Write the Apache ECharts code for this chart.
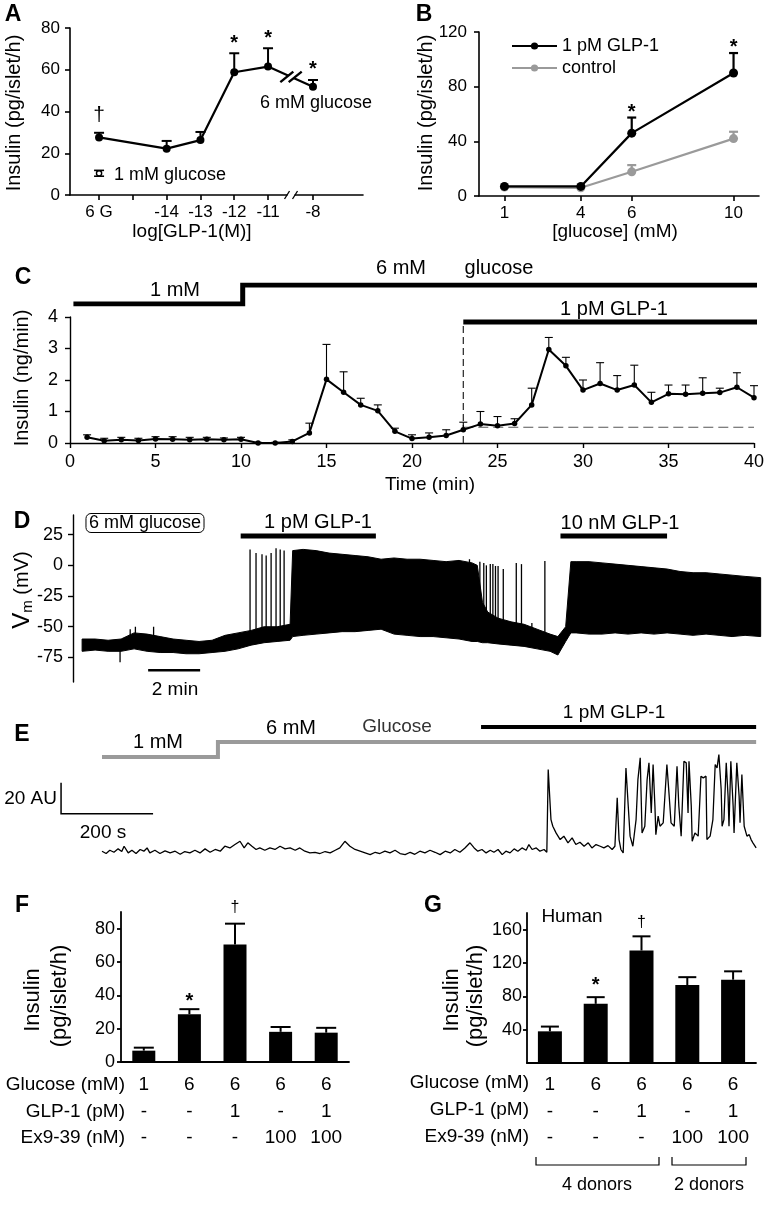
<!DOCTYPE html>
<html><head><meta charset="utf-8">
<script src="https://cdn.jsdelivr.net/npm/echarts@6/dist/echarts.min.js"></script>
<style>html,body{margin:0;padding:0;background:#fff}#c{width:768px;height:1213px}</style>
</head><body><div id="c"></div>
<script>
const FONT='"Liberation Sans", Arial, Helvetica, sans-serif';
const K='#000', GRAY='#9a9a9a';

// ---------- Panel A ----------
const aTickPos=[0,1,2,3,4,5,6.33];
const aTickLabels=['6 G','','-14','-13','-12','-11','-8'];
const aPos=[0,2,3,4,5,6.33];
const aMean=[27.6,22.2,26.3,58.8,61.5,51.9];
const aErr=[29.8,25.9,30.2,67.9,70.3,55.1];
const aMarks=['†','','','*','*','*'];
const aLowPos=0, aLowMean=10.4, aLowSem=1.4;
const aBreakPos=5.68;

// ---------- Panel B ----------
const bGlucose=[1,4,6,10];
const bGlp=[7,7,46,90];
const bGlpErr=[null,null,57.4,104.6];
const bCtl=[6.5,6,17.7,42];
const bCtlErr=[null,null,22.6,47];
const bMarks=['','','*','*'];

// ---------- Panel C ----------
const cTime=[1,2,3,4,5,6,7,8,9,10,11,12,13,14,15,16,17,18,19,20,21,22,23,24,25,26,27,28,29,30,31,32,33,34,35,36,37,38,39,40];
const cMean=[0.18,0.07,0.1,0.08,0.13,0.12,0.1,0.12,0.1,0.12,0,0,0.05,0.32,2.02,1.61,1.21,1.02,0.37,0.14,0.18,0.24,0.42,0.6,0.55,0.62,1.21,2.97,2.45,1.68,1.89,1.68,1.84,1.29,1.56,1.55,1.58,1.6,1.77,1.44];
const cErr=[0.26,0.15,0.18,0.15,0.2,0.2,0.18,0.18,0.16,0.18,0.02,0.02,0.1,0.63,3.13,2.26,1.42,1.21,0.47,0.26,0.32,0.42,0.66,1.0,0.84,0.77,1.74,3.35,2.72,2.0,2.55,2.14,2.47,1.61,1.84,1.84,2.07,1.74,2.23,1.82];
const cGlucoseT=[0.2,10.1,10.1,40.2];
const cGlucoseLvl=[0,0,1,1];
const cGlpT=[23,40.2];
const cGlpLevel=3.84;
const cBaseline=0.5;

// ---------- Panel D (membrane potential, envelope + spikes) ----------
const dTime=[0,0.5,1,1.5,2,2.5,3,3.5,4,4.5,5,5.5,6,6.5,7,7.5,8,8.1,8.5,9,9.5,10,10.5,11,11.5,12,12.5,13,13.5,14,14.5,15,15.2,15.4,15.6,16,16.5,17,17.5,18,18.3,18.6,18.8,19,19.5,20,20.5,21,21.5,22,22.5,23,23.5,24,24.5,25,25.5,26.1];
const dTop=[-60,-60,-61,-60,-55,-56,-58,-60,-61,-62,-61,-57,-55,-53,-50,-50,-48,12,13,12,10,9,8,7,5,6,5,5,4,3,4,2,0,-30,-38,-43,-46,-48,-52,-56,-58,-50,3,3,3,2,1,0,-1,-2,-3,-5,-6,-6,-7,-8,-9,-10];
const dBot=[-70,-69,-70,-70,-68,-70,-71,-71,-72,-72,-71,-70,-68,-65,-63,-62,-61,-58,-57,-56,-55,-54,-54,-53,-52,-56,-57,-58,-58,-59,-60,-62,-62,-63,-63,-64,-65,-66,-68,-70,-73,-62,-55,-55,-56,-56,-55,-56,-55,-56,-55,-56,-57,-56,-57,-58,-57,-58];
const dSpikes=[[1.46,-79,-64],[1.85,-64,-52],[2.05,-65,-50],[2.75,-66,-50],
 [6.46,-58,13],[6.69,-58,10],[6.92,-57,9],[7.08,-57,8],[7.27,-56,10],[7.46,-56,14],[7.62,-56,13],[7.77,-55,12],
 [14.9,-60,5],[15.3,-58,3],[15.45,-58,2],[15.55,-58,0],[15.7,-55,1],[15.8,-55,1],[15.9,-55,-0.5],[16.0,-55,-0.5],[16.2,-55,-3],[16.7,-55,2],[16.9,-55,1],[17.3,-60,-47],[17.8,-60,3.5]];
const dGlp1pM=[6.1,11.3];
const dGlp10nM=[18.4,22.5];
const dScaleMin=[2.54,4.54], dScaleV=-85.5;

// ---------- Panel E (Ca2+ trace) ----------
const eT=[0,9,17,26,35,43,48,57,65,74,83,91,98,104,115,126,137,148,159,170,180,191,202,213,224,235,246,257,267,278,289,300,309,317,326,335,343,354,365,376,387,398,409,420,430,441,452,463,474,485,496,507,517,528,539,550,561,572,583,594,604,615,626,637,648,659,670,680,691,702,713,724,735,746,757,767,778,789,800,809,817,826,835,844,852,861,870,878,887,896,904,913,922,928,935,944,952,961,967,
 970,976,980,987,996,1004,1013,1022,1030,1039,1048,1057,1065,1074,1083,1091,1100,1109,1115,
 1120,1124,1128,1133,1139,1144,1148,1154,1161,1165,1170,1174,1180,1185,1189,1194,1198,1202,1204,1209,1213,1220,1228,1233,1237,1244,1250,1254,1259,1265,1270,1274,1276,1281,1283,1289,1296,1302,1307,1313,1315,1322,1328,1333,1337,1341,1346,1348,1352,1357,1361,1363,1367,1372,1374,1380,1385,1387,1391,1396,1402,1407,1411,1415,1422];
const eV=[1.1,-0.4,1.7,0.4,2.6,0.9,4.3,0,1.7,-0.4,2.2,1.1,3.2,0,1.7,-0.4,1.3,0,1.1,-0.9,0.9,0,1.7,0,2.6,0.4,2.2,1.1,4.3,3.2,5.4,7.5,3.2,6.5,4.3,2.2,3.2,1.7,3.2,2.2,4.3,2.6,3.2,1.7,3.2,1.1,0,0.4,-0.4,0.9,0,1.7,3.2,7.5,4.3,2.2,1.1,0,-1.1,0.4,-0.4,1.1,0,1.7,-0.4,-1.1,0.4,-0.9,1.1,0,1.7,0.4,-1.1,1.1,0,2.2,0.4,3.2,6.5,3.2,1.1,2.2,0,1.7,0.4,2.2,-1.1,1.1,0,2.6,1.1,3.2,1.7,5.4,2.2,3.2,1.1,2.2,0.4,
 53.8,21.5,17.2,12.9,8.6,10.8,6.5,9.7,5.4,6.9,4.3,6.5,3.2,5.4,4.3,3.2,4.7,2.2,4.3,
 35.5,8.6,2.2,0,54.8,30.1,10.8,4.3,21.5,47.3,61.3,12.9,17.2,47.3,58.1,25.8,57,30.1,11.8,23.7,17.2,19.4,57,36.6,19.4,17.2,55.9,30.1,10.8,59.1,58.1,25.8,59.1,30.1,7.5,12.9,10.8,49.5,48.4,49.5,8.6,10.8,21.5,57,54.8,63.4,40.9,17.2,21.5,58.1,36.6,17.2,59.1,30.1,12.9,58.1,36.6,19.4,50.5,17.2,10.8,11.8,8.6,6.5,3.2];
const eGlucoseT=[0,252,252,1422];
const eGlucoseLvl=[0,0,1,1];
const eGlpT=[824,1422];
const eScaleT=[-89,-89,111];
const eScaleV=[45.2,25.2,25.2];

// ---------- Panel F ----------
const fGlucose=['1','6','6','6','6'];
const fGlp=['-','-','1','-','1'];
const fEx=['-','-','-','100','100'];
const fMean=[6.8,28.7,70.5,18.1,17.6];
const fErr=[8.6,31.7,83,21,20.5];
const fMarks=['','*','†','',''];

// ---------- Panel G ----------
const gGlucose=['1','6','6','6','6'];
const gGlp=['-','-','1','-','1'];
const gEx=['-','-','-','100','100'];
const gMean=[38,71,135,93.6,100];
const gErr=[43.7,79,152,103,110];
const gMarks=['','*','†','',''];

// ---------- helpers ----------
function errBars(cap, lw, color){
  return function(params, api){
    const x=api.value(0), y=api.value(1), e=api.value(2);
    const a=api.coord([x,y]), b=api.coord([x,e]);
    return {type:'group', children:[
      {type:'line', shape:{x1:a[0],y1:a[1],x2:b[0],y2:b[1]}, style:{stroke:color,lineWidth:lw}},
      {type:'line', shape:{x1:b[0]-cap/2,y1:b[1],x2:b[0]+cap/2,y2:b[1]}, style:{stroke:color,lineWidth:lw}}
    ]};
  };
}
function markText(marks, starGap, dagGap, starSize, dagSize){
  return function(params, api){
    const m=marks[params.dataIndex]; if(!m) return null;
    const p=api.coord([api.value(0), api.value(1)]);
    const star = m==='*';
    const sz = star?starSize:dagSize;
    const y = star ? p[1]-starGap+0.24*sz : p[1]-dagGap;
    return {type:'text', x:p[0], y:y, style:{text:m, fill:K, font:(star?'bold ':'')+sz+'px '+FONT, align:'center', verticalAlign:'middle', textAlign:'center', textVerticalAlign:'middle'}};
  };
}
function txt(text, x, y, o){
  o=o||{};
  return {type:'text', x:x, y:y, rotation:o.rot||0, z:100,
    style:Object.assign({text:text, fill:o.color||K, font:(o.bold?'bold ':'')+(o.size||19)+'px '+(o.family||FONT),
      align:o.align||'center', verticalAlign:'middle', textAlign:o.align||'center', textVerticalAlign:'middle'}, o.extra||{})};
}
function hidden(gi, min, max, type){ return {type:type||'value', gridIndex:gi, min:min, max:max, show:false, splitLine:{show:false}}; }
function valAxis(gi, min, max, o){
  o=o||{};
  const ax={type:'value', gridIndex:gi, min:min, max:max,
    axisLine:{show:true, onZero:false, lineStyle:{color:K, width:o.lw||1.6}},
    axisTick:{show:o.tick!==false, length:o.tickLen||5, inside:false, lineStyle:{color:K, width:o.lw||1.6}},
    axisLabel:{show:o.label!==false, color:K, fontFamily:FONT, fontSize:o.fs||17, margin:o.margin||8},
    splitLine:{show:false}};
  if(o.interval!=null) ax.interval=o.interval;
  if(o.custom){ ax.axisLabel.customValues=o.custom; ax.axisTick.customValues=o.tickCustom||o.custom; }
  if(o.formatter) ax.axisLabel.formatter=o.formatter;
  return ax;
}
const zip=(xs,ys)=>xs.map((x,i)=>[x,ys[i]]);

// ---------- axes ----------
const xAxes=[
  valAxis(0,-0.86,7.81,{custom:aTickPos, margin:9, formatter:v=>{const i=aTickPos.findIndex(p=>Math.abs(p-v)<1e-6);return i>=0?aTickLabels[i]:'';}}),
  valAxis(1,0,11,{custom:bGlucose, margin:9}),
  hidden(2,0,40),
  valAxis(3,0,40,{interval:5, fs:18, margin:10, lw:1.4}),
  hidden(4,-0.35,26.19),
  hidden(5,-0.35,26.19),
  hidden(6,-100,1421.7),
  hidden(7,-100,1421.7),
  {type:'category', gridIndex:8, data:fGlucose.map((_,i)=>String(i)), axisLine:{show:true,lineStyle:{color:K,width:1.8}}, axisTick:{show:false},
    axisLabel:{color:K, fontFamily:FONT, fontSize:19, lineHeight:26.5, margin:10, interval:0, formatter:(v,i)=>fGlucose[i]+'\n'+fGlp[i]+'\n'+fEx[i]}, splitLine:{show:false}},
  {type:'category', gridIndex:9, data:gGlucose.map((_,i)=>String(i)), axisLine:{show:true,lineStyle:{color:K,width:1.8}}, axisTick:{show:false},
    axisLabel:{color:K, fontFamily:FONT, fontSize:19, lineHeight:26.5, margin:9, interval:0, formatter:(v,i)=>gGlucose[i]+'\n'+gGlp[i]+'\n'+gEx[i]}, splitLine:{show:false}}
];
const yAxes=[
  valAxis(0,0,80,{interval:20, margin:10}),
  valAxis(1,0,120,{interval:40, margin:12}),
  hidden(2,0,1),
  valAxis(3,0,4,{interval:1, fs:18, margin:12, lw:1.4}),
  valAxis(4,-95,41,{custom:[-75,-50,-25,0,25], fs:18, margin:10, lw:1.4}),
  hidden(5,-1,1),
  hidden(6,-12,98),
  hidden(7,0,2),
  valAxis(8,0,90,{custom:[0,20,40,60,80], fs:18, margin:6, tickLen:4, lw:1.8}),
  valAxis(9,0,180,{custom:[40,80,120,160], tickCustom:[40,80,120,160], fs:18, margin:5, tickLen:4, lw:1.8})
];

// ---------- series ----------
const series=[];
// A
series.push({type:'custom', xAxisIndex:0, yAxisIndex:0, z:2, renderItem:errBars(10,2,K), data:aPos.map((p,i)=>[p,aMean[i],aErr[i]])});
series.push({type:'line', name:'A', xAxisIndex:0, yAxisIndex:0, z:3, data:zip(aPos,aMean), symbol:'circle', symbolSize:8, itemStyle:{color:K}, lineStyle:{color:K,width:2.2}});
series.push({type:'custom', xAxisIndex:0, yAxisIndex:0, z:4, data:[[aLowPos,aLowMean,aLowSem]], renderItem:function(params,api){
  const c=api.coord([api.value(0),api.value(1)]), hi=api.coord([api.value(0),api.value(1)+api.value(2)]), lo=api.coord([api.value(0),api.value(1)-api.value(2)]);
  return {type:'group', children:[
    {type:'line', shape:{x1:c[0]-5,y1:hi[1],x2:c[0]+5,y2:hi[1]}, style:{stroke:K,lineWidth:1.6}},
    {type:'line', shape:{x1:c[0]-5,y1:lo[1],x2:c[0]+5,y2:lo[1]}, style:{stroke:K,lineWidth:1.6}},
    {type:'line', shape:{x1:c[0],y1:hi[1],x2:c[0],y2:lo[1]}, style:{stroke:K,lineWidth:1.6}},
    {type:'circle', shape:{cx:c[0],cy:c[1],r:2.6}, style:{fill:'#fff',stroke:K,lineWidth:1.4}}
  ]};}});
series.push({type:'custom', xAxisIndex:0, yAxisIndex:0, z:5, data:aPos.map((p,i)=>[p,aErr[i]]), renderItem:markText(aMarks,15,18,20,21)});
series.push({type:'custom', xAxisIndex:0, yAxisIndex:0, z:6, data:[[aBreakPos]], renderItem:function(params,api){
  const x=api.value(0);
  const f=(x-aPos[4])/(aPos[5]-aPos[4]);
  const yv=aMean[4]+(aMean[5]-aMean[4])*f;
  const c=api.coord([x,yv]), z=api.coord([x,0]);
  const dx=6.5, dy=5.2, s=4.2;
  return {type:'group', children:[
    {type:'polygon', shape:{points:[[c[0]-s-dx,c[1]+dy],[c[0]-s+dx,c[1]-dy],[c[0]+s+dx,c[1]-dy],[c[0]+s-dx,c[1]+dy]]}, style:{fill:'#fff'}},
    {type:'line', shape:{x1:c[0]-s-dx,y1:c[1]+dy,x2:c[0]-s+dx,y2:c[1]-dy}, style:{stroke:K,lineWidth:2.4}},
    {type:'line', shape:{x1:c[0]+s-dx,y1:c[1]+dy,x2:c[0]+s+dx,y2:c[1]-dy}, style:{stroke:K,lineWidth:2.4}},
    {type:'rect', shape:{x:z[0]-3.5,y:z[1]-3,width:7,height:6}, style:{fill:'#fff'}},
    {type:'line', shape:{x1:z[0]-6.5,y1:z[1]+4,x2:z[0]-1.5,y2:z[1]-4}, style:{stroke:K,lineWidth:1.3}},
    {type:'line', shape:{x1:z[0]+1.5,y1:z[1]+4,x2:z[0]+6.5,y2:z[1]-4}, style:{stroke:K,lineWidth:1.3}}
  ]};}});
// B
series.push({type:'custom', xAxisIndex:1, yAxisIndex:1, z:2, renderItem:errBars(9,2.2,K), data:bGlucose.map((g,i)=>[g,bGlp[i],bGlpErr[i]]).filter(d=>d[2]!=null)});
series.push({type:'custom', xAxisIndex:1, yAxisIndex:1, z:2, renderItem:errBars(9,2.2,GRAY), data:bGlucose.map((g,i)=>[g,bCtl[i],bCtlErr[i]]).filter(d=>d[2]!=null)});
series.push({type:'line', name:'control', xAxisIndex:1, yAxisIndex:1, z:3, data:zip(bGlucose,bCtl), symbol:'circle', symbolSize:9, itemStyle:{color:GRAY}, lineStyle:{color:GRAY,width:2.2}});
series.push({type:'line', name:'1 pM GLP-1', xAxisIndex:1, yAxisIndex:1, z:4, data:zip(bGlucose,bGlp), symbol:'circle', symbolSize:9, itemStyle:{color:K}, lineStyle:{color:K,width:2.2}});
series.push({type:'custom', xAxisIndex:1, yAxisIndex:1, z:5, data:bGlucose.map((g,i)=>[g,bGlpErr[i]==null?bGlp[i]:bGlpErr[i]]), renderItem:markText(bMarks,10,10,20,21)});
// C protocol
series.push({type:'line', xAxisIndex:2, yAxisIndex:2, data:zip(cGlucoseT,cGlucoseLvl), symbol:'none', lineStyle:{color:K,width:5,join:'miter',cap:'butt'}});
// C
series.push({type:'line', xAxisIndex:3, yAxisIndex:3, z:1, data:[[cGlpT[0],0],[cGlpT[0],cGlpLevel]], symbol:'none', lineStyle:{color:'#222',width:1.2,type:[7,4]}});
series.push({type:'line', xAxisIndex:3, yAxisIndex:3, z:1, data:[[cGlpT[0],cBaseline],[cTime[cTime.length-1],cBaseline]], symbol:'none', lineStyle:{color:'#555',width:1.2,type:[10,5]}});
series.push({type:'line', xAxisIndex:3, yAxisIndex:3, z:2, data:zip(cGlpT,[cGlpLevel,cGlpLevel]), symbol:'none', lineStyle:{color:K,width:5,cap:'butt'}});
series.push({type:'custom', xAxisIndex:3, yAxisIndex:3, z:2, renderItem:errBars(8,1.1,K), data:cTime.map((t,i)=>[t,cMean[i],cErr[i]])});
series.push({type:'line', xAxisIndex:3, yAxisIndex:3, z:3, data:zip(cTime,cMean), symbol:'circle', symbolSize:5.5, itemStyle:{color:K}, lineStyle:{color:K,width:2}});
// D
series.push({type:'custom', xAxisIndex:4, yAxisIndex:4, z:2, data:[[0,0]], renderItem:function(params,api){
  const pts=[];
  for(let i=0;i<dTime.length;i++) pts.push(api.coord([dTime[i],dTop[i]]));
  for(let i=dTime.length-1;i>=0;i--) pts.push(api.coord([dTime[i],dBot[i]]));
  return {type:'polygon', shape:{points:pts}, style:{fill:K, stroke:K, lineWidth:1}};
}});
series.push({type:'custom', xAxisIndex:4, yAxisIndex:4, z:3, data:dSpikes, renderItem:function(params,api){
  const a=api.coord([api.value(0),api.value(1)]), b=api.coord([api.value(0),api.value(2)]);
  return {type:'line', shape:{x1:a[0],y1:a[1],x2:b[0],y2:b[1]}, style:{stroke:K,lineWidth:1.3}};
}});
series.push({type:'line', xAxisIndex:4, yAxisIndex:4, data:zip(dScaleMin,[dScaleV,dScaleV]), symbol:'none', lineStyle:{color:K,width:2.5,cap:'butt'}});
series.push({type:'line', xAxisIndex:5, yAxisIndex:5, data:zip(dGlp1pM,[0,0]), symbol:'none', lineStyle:{color:K,width:5,cap:'butt'}});
series.push({type:'line', xAxisIndex:5, yAxisIndex:5, data:zip(dGlp10nM,[0,0]), symbol:'none', lineStyle:{color:K,width:5,cap:'butt'}});
// E
series.push({type:'line', xAxisIndex:6, yAxisIndex:6, data:zip(eT,eV), symbol:'none', lineStyle:{color:K,width:1.3}});
series.push({type:'line', xAxisIndex:6, yAxisIndex:6, data:zip(eScaleT,eScaleV), symbol:'none', lineStyle:{color:K,width:1.5,join:'miter'}});
series.push({type:'line', xAxisIndex:7, yAxisIndex:7, data:zip(eGlucoseT,eGlucoseLvl), symbol:'none', lineStyle:{color:GRAY,width:4,join:'miter',cap:'butt'}});
series.push({type:'line', xAxisIndex:7, yAxisIndex:7, data:zip(eGlpT,[2,2]), symbol:'none', lineStyle:{color:K,width:4,cap:'butt'}});
// F
series.push({type:'bar', xAxisIndex:8, yAxisIndex:8, data:fMean, barWidth:23, itemStyle:{color:K}});
series.push({type:'custom', xAxisIndex:8, yAxisIndex:8, z:3, renderItem:errBars(20,2,K), data:fMean.map((m,i)=>[i,m,fErr[i]])});
series.push({type:'custom', xAxisIndex:8, yAxisIndex:8, z:4, data:fMean.map((m,i)=>[i,fErr[i]]), renderItem:markText(fMarks,12,16,20,16)});
// G
series.push({type:'bar', xAxisIndex:9, yAxisIndex:9, data:gMean, barWidth:24, itemStyle:{color:K}});
series.push({type:'custom', xAxisIndex:9, yAxisIndex:9, z:3, renderItem:errBars(18,2,K), data:gMean.map((m,i)=>[i,m,gErr[i]])});
series.push({type:'custom', xAxisIndex:9, yAxisIndex:9, z:4, data:gMean.map((m,i)=>[i,gErr[i]]), renderItem:markText(gMarks,16,14,20,16)});

// ---------- text / decorations ----------
const R=Math.PI/2;
const graphic=[
  txt('A',13,15,{bold:true,size:23}),
  txt('Insulin (pg/islet/h)',14,113,{rot:R,size:20}),
  txt('log[GLP-1(M)]',192,232,{size:19}),
  txt('1 mM glucose',114,175,{size:18,align:'left'}),
  txt('6 mM glucose',260,103,{size:18,align:'left'}),
  txt('B',424,15,{bold:true,size:23}),
  txt('Insulin (pg/islet/h)',426,113,{rot:R,size:20}),
  txt('[glucose] (mM)',615,232,{size:19}),
  txt('C',23,278,{bold:true,size:23}),
  txt('Insulin (ng/min)',22,378,{rot:R,size:20}),
  txt('1 mM',175,290,{size:20}),
  txt('6 mM',401,268,{size:20}),
  txt('glucose',499,268,{size:20}),
  txt('1 pM GLP-1',614,309,{size:20}),
  txt('Time (min)',430,485,{size:19}),
  txt('D',22,522,{bold:true,size:23}),
  {type:'text', x:22, y:590, rotation:R, z:100, style:{text:'{v|V}{s|m}{n| (mV)}', fill:K, align:'center', verticalAlign:'middle', textAlign:'center', textVerticalAlign:'middle',
    rich:{v:{fontFamily:FONT,fontSize:24,lineHeight:26,verticalAlign:'middle'}, s:{fontFamily:FONT,fontSize:15,lineHeight:12,verticalAlign:'bottom',padding:[8,0,0,0]}, n:{fontFamily:FONT,fontSize:20,lineHeight:26,verticalAlign:'middle'}}}},
  txt('6 mM glucose',145,523,{size:18,extra:{borderColor:K,borderWidth:1,borderRadius:5,padding:[1,3,0,3]}}),
  txt('1 pM GLP-1',318,522,{size:20}),
  txt('10 nM GLP-1',620,523,{size:20}),
  txt('2 min',175,690,{size:19}),
  txt('E',22,735,{bold:true,size:23}),
  txt('1 mM',158,742,{size:20}),
  txt('6 mM',291,728,{size:20}),
  txt('Glucose',397,727,{size:19,color:'#333'}),
  txt('1 pM GLP-1',614,713,{size:19}),
  txt('20 AU',57,799,{size:19,align:'right'}),
  txt('200 s',103,833,{size:19}),
  txt('F',22,906,{bold:true,size:23}),
  txt('Insulin',33,1000,{rot:R,size:22}),
  txt('(pg/islet/h)',60,996,{rot:R,size:22}),
  txt('Glucose (mM)',125,1085,{size:19,align:'right'}),
  txt('GLP-1 (pM)',125,1112,{size:19,align:'right'}),
  txt('Ex9-39 (nM)',125,1138,{size:19,align:'right'}),
  txt('G',433,906,{bold:true,size:23}),
  txt('Insulin',452,1000,{rot:R,size:22}),
  txt('(pg/islet/h)',476,996,{rot:R,size:22}),
  txt('Human',572,917,{size:19}),
  txt('Glucose (mM)',529,1083,{size:19,align:'right'}),
  txt('GLP-1 (pM)',529,1110,{size:19,align:'right'}),
  txt('Ex9-39 (nM)',529,1137,{size:19,align:'right'}),
  {type:'polyline', z:100, shape:{points:[[536,1157],[536,1165],[659,1165],[659,1157]]}, style:{stroke:K,lineWidth:1.2,fill:null}},
  {type:'polyline', z:100, shape:{points:[[672,1157],[672,1165],[746,1165],[746,1157]]}, style:{stroke:K,lineWidth:1.2,fill:null}},
  txt('4 donors',597,1185,{size:18}),
  txt('2 donors',709,1185,{size:18})
];

const chart=echarts.init(document.getElementById('c'), null, {renderer:'canvas', width:768, height:1213});
chart.setOption({
  animation:false,
  backgroundColor:'#fff',
  textStyle:{fontFamily:FONT},
  grid:[
    {left:70, top:28, width:293, height:167},
    {left:479, top:32, width:280, height:164},
    {left:70, top:285, width:684, height:19},
    {left:70, top:317, width:684, height:126},
    {left:73, top:515, width:690, height:167},
    {left:73, top:531, width:690, height:10},
    {left:56, top:701, width:700, height:170.5},
    {left:56, top:727, width:700, height:30},
    {left:121, top:912, width:228, height:150},
    {left:527, top:913, width:229, height:150}
  ].map(g=>Object.assign({containLabel:false, outerBoundsMode:'none'}, g)),
  xAxis:xAxes,
  yAxis:yAxes,
  legend:{data:['1 pM GLP-1','control'], left:511, top:37, orient:'vertical', itemWidth:45, itemHeight:9, itemGap:4, padding:0, selectedMode:false,
    textStyle:{fontFamily:FONT,fontSize:18,color:K}},
  series:series,
  graphic:graphic
});
</script></body></html>
